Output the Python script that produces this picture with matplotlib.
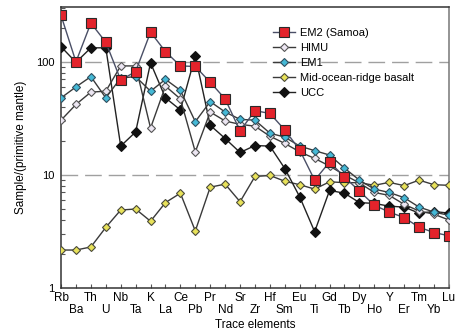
import matplotlib
matplotlib.use("Agg")
import matplotlib.pyplot as plt
import numpy as np

plt.rcParams["font.family"] = ["Liberation Sans", "DejaVu Sans"]

# ── Data (normalised to primitive mantle) ───────────────────────────────────
elements = ["Rb", "Ba", "Th", "U", "Nb", "Ta", "K", "La", "Ce", "Pb", "Pr", "Nd",
            "Sr", "Zr", "Hf", "Sm", "Eu", "Ti", "Gd", "Tb", "Dy", "Ho", "Y",
            "Er", "Tm", "Yb", "Lu"]

em2  = [257, 100, 220, 149, 69, 82, 183, 123, 92, 91, 66, 47,
        24.5, 37, 35, 25, 16.6, 9.0, 13.0, 9.6, 7.2, 5.4, 4.7,
        4.2, 3.45, 3.1, 2.9]
himu = [30.5, 42, 54, 55, 92, 92, 26, 61, 47, 16, 36, 30,
        28, 27, 22, 19, 16, 14, 12, 10, 8.5, 7.0, 6.6,
        5.5, 4.8, 4.5, 4.0]
em1  = [48, 60, 74, 48, 72, 74, 55, 70, 56, 29.6, 44.5, 36,
        31, 30.5, 23.4, 21.6, 18, 16.4, 15, 11.5, 9.0, 7.5, 7.0,
        6.3, 5.2, 4.7, 4.4]
morb = [2.17, 2.17, 2.31, 3.44, 4.9, 5.0, 3.9, 5.7, 6.9, 3.2, 7.8, 8.3,
        5.8, 9.7, 9.9, 8.8, 8.2, 7.5, 8.7, 8.55, 8.55, 8.1, 8.6,
        8.05, 9.0, 8.2, 8.1]
ucc  = [136, 99, 133, 133, 18, 24, 98, 48, 37.6, 113, 27.5, 21,
        15.8, 18.2, 18, 11.4, 6.4, 3.15, 7.3, 6.9, 5.7, 5.6, 5.3,
        5.2, 4.6, 4.75, 4.6]

labels = ["EM2 (Samoa)", "HIMU", "EM1", "Mid-ocean-ridge basalt", "UCC"]

x = np.arange(len(elements))

fig = plt.figure(figsize=(4.59, 3.35), dpi=100)
ax = fig.add_axes([0.133, 0.140, 0.845, 0.839])

ax.axhline(10, color="#a0a0a0", lw=1.0, dashes=(12, 5), zorder=1)
ax.axhline(100, color="#a0a0a0", lw=1.0, dashes=(12, 5), zorder=1)

line_kw = dict(lw=1.0, markeredgewidth=0.8)
ax.plot(x, morb, color="#3a3a3a", marker="D", ms=4.2, mfc="#e8e25a",
        mec="#4a4a3a", zorder=3, label=labels[3], **line_kw)
ax.plot(x, ucc, color="#222222", marker="D", ms=5.5, mfc="#111111",
        mec="#111111", zorder=4, label=labels[4], **line_kw)
ax.plot(x, himu, color="#3a3a3a", marker="D", ms=4.2, mfc="#ece6f2",
        mec="#555555", zorder=5, label=labels[1], **line_kw)
ax.plot(x, em1, color="#3a3a3a", marker="D", ms=4.2, mfc="#45b9d6",
        mec="#2f4f5f", zorder=6, label=labels[2], **line_kw)
ax.plot(x, em2, color="#4a4f66", marker="s", ms=7.8, mfc="#e3232b",
        mec="#2a2a2a", zorder=7, label=labels[0], **line_kw)

ax.set_yscale("log")
ax.set_ylim(1, 305)
ax.set_xlim(0, len(elements) - 1)

ax.set_yticks([1, 10, 100], ["1", "10", "100"])
ax.tick_params(axis="y", which="both", direction="in", right=False,
               labelsize=8, pad=5)
ax.tick_params(axis="y", which="major", length=0)
ax.tick_params(axis="y", which="minor", length=3, width=0.8, color="#555555")

# staggered element labels
ax.set_xticks(x[::2], elements[::2])
ax.set_xticks(x[1::2], elements[1::2], minor=True)
ax.tick_params(axis="x", which="both", direction="in", length=3,
               width=0.8, color="#555555", labelsize=8.5, top=False)
ax.tick_params(axis="x", which="major", pad=2.5)
ax.tick_params(axis="x", which="minor", pad=11.5)

for side in ["left", "bottom", "top"]:
    ax.spines[side].set_color("#333333")
    ax.spines[side].set_linewidth(1.1)
ax.spines["right"].set_color("#777777")
ax.spines["right"].set_linewidth(1.1)

ax.set_xlabel("Trace elements", fontsize=8.5, labelpad=2)
ax.set_ylabel("Sample/(primitive mantle)", fontsize=8.5, labelpad=6)

handles, labs = ax.get_legend_handles_labels()
order = [labs.index(l) for l in labels]
ax.legend([handles[i] for i in order], [labs[i] for i in order],
          loc="upper left", bbox_to_anchor=(0.535, 0.94), frameon=False,
          fontsize=8, handlelength=2.0, handletextpad=0.4,
          labelspacing=0.45, borderaxespad=0)

fig.savefig("out.png", dpi=100)
